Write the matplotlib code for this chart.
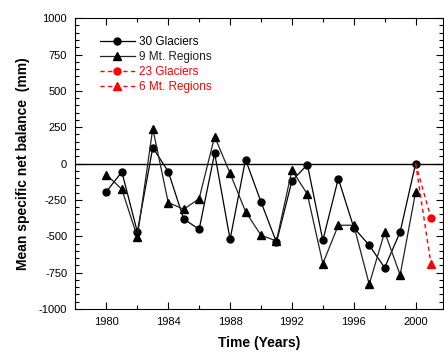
import matplotlib.pyplot as plt
from matplotlib.ticker import MultipleLocator

plt.rcParams['font.family'] = ['Liberation Sans', 'DejaVu Sans']
plt.rcParams['axes.unicode_minus'] = False

years = list(range(1980, 2001))
glaciers30 = [-193, -57, -470, 110, -55, -381, -452, 71, -521, 28, -264,
              -541, -119, -7, -528, -103, -440, -562, -716, -470, 0]
regions9 = [-76, -177, -505, 241, -268, -314, -241, 186, -67, -330, -493,
            -532, -44, -211, -688, -424, -424, -830, -470, -766, -195]
years_new = [2000, 2001]
glaciers23 = [0, -376]
regions6 = [0, -693]

fig = plt.figure(figsize=(4.44, 3.56), dpi=100)
ax = fig.add_axes([0.170, 0.132, 0.827, 0.817])

ax.axhline(0, color='black', lw=1, zorder=1)
ax.plot(years, glaciers30, color='black', lw=0.9, marker='o', ms=5,
        label='30 Glaciers')
ax.plot(years, regions9, color='#222222', lw=0.9, marker='^', ms=5.5,
        mfc='black', mec='black', label='9 Mt. Regions')
ax.plot(years_new, glaciers23, color='red', lw=1, ls=(0, (3, 2.5)),
        marker='o', ms=5, markevery=[1], label='23 Glaciers')
ax.plot(years_new, regions6, color='red', lw=1, ls=(0, (3, 2.5)),
        marker='^', ms=5.5, markevery=[1], label='6 Mt. Regions')

ax.set_xlim(1978, 2001.75)
ax.set_ylim(-1000, 1000)
ax.xaxis.set_major_locator(MultipleLocator(4))
ax.xaxis.set_minor_locator(MultipleLocator(2))
ax.yaxis.set_major_locator(MultipleLocator(250))
ax.yaxis.set_minor_locator(MultipleLocator(50))
ax.tick_params(which='both', direction='in', top=True, right=True,
               labelsize=8, pad=6)
ax.tick_params(which='major', length=5, width=0.8)
ax.tick_params(which='minor', length=3, width=0.8)
for s in ax.spines.values():
    s.set_linewidth(0.8)

ax.set_xlabel('Time (Years)', fontsize=10, fontweight='bold', labelpad=6)
ax.set_ylabel('Mean specific net balance  (mm)', fontsize=10,
              fontweight='bold', labelpad=6)

leg = ax.legend(loc='upper left', frameon=False, fontsize=8.5,
                handlelength=3, handletextpad=0.3, labelspacing=0.25,
                borderaxespad=0.4, bbox_to_anchor=(0.04, 0.97),
                labelcolor='linecolor')

fig.savefig('out.png', dpi=100)
